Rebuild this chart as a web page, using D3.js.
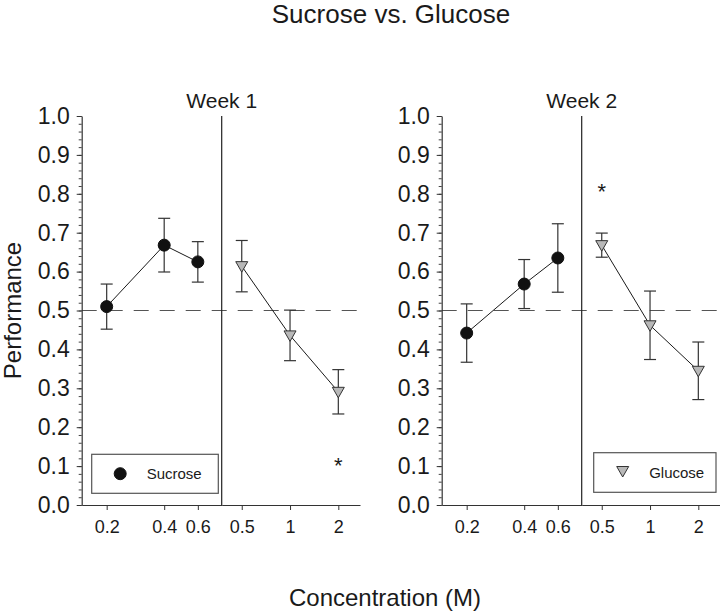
<!DOCTYPE html>
<html>
<head>
<meta charset="utf-8">
<script src="https://cdn.jsdelivr.net/npm/d3@7"></script>
<style>
  body { margin: 0; background: #fff; }
  text { font-family: "Liberation Sans", Arial, sans-serif; fill: #1a1a1a; }
</style>
</head>
<body>
<div id="chart"></div>
<script>
// concentrations (M)
var sucroseConc = [0.2, 0.4, 0.6];
var glucoseConc = [0.5, 1, 2];

// performance means and SEM
var week1Sucrose    = [0.510, 0.668, 0.625];
var week1SucroseErr = [0.058, 0.069, 0.052];
var week1Glucose    = [0.614, 0.436, 0.291];
var week1GlucoseErr = [0.066, 0.065, 0.057];

var week2Sucrose    = [0.442, 0.568, 0.635];
var week2SucroseErr = [0.075, 0.063, 0.088];
var week2Glucose    = [0.668, 0.462, 0.345];
var week2GlucoseErr = [0.031, 0.088, 0.074];

var weekLabels = ["Week 1", "Week 2"];
var yTicks = [0, 0.1, 0.2, 0.3, 0.4, 0.5, 0.6, 0.7, 0.8, 0.9, 1.0];
// significance marks: [panel, series, concentration, y]
var stars = [[0, "glucose", 2, 0.11], [1, "glucose", 0.5, 0.814]];

var width = 720, height = 611;
var svg = d3.select("#chart").append("svg")
  .attr("width", width).attr("height", height);

var panelX  = [81.7, 441.7];
var sucW    = 140;      // sucrose part of each panel
var gluW    = 138.3;    // glucose part
var yTop = 116, yBot = 505;

var y = d3.scaleLinear().domain([0, 1]).range([yBot, yTop]);

var weeks = [
  {suc: week1Sucrose, sucErr: week1SucroseErr, glu: week1Glucose, gluErr: week1GlucoseErr},
  {suc: week2Sucrose, sucErr: week2SucroseErr, glu: week2Glucose, gluErr: week2GlucoseErr}
];

function draw_series(g, xs, conc, vals, errs, kind)
{
  var pts = conc.map(function (c, i) { return {x: xs(c), m: vals[i], e: errs[i]}; });

  // error bars
  var eb = g.append("g");
  pts.forEach(function (p) {
    eb.append("line")
      .attr("x1", p.x).attr("x2", p.x)
      .attr("y1", y(p.m + p.e)).attr("y2", y(p.m - p.e))
      .attr("stroke", "#333").attr("stroke-width", 1.2);
    [p.m + p.e, p.m - p.e].forEach(function (v) {
      eb.append("line")
        .attr("x1", p.x - 6).attr("x2", p.x + 6)
        .attr("y1", y(v)).attr("y2", y(v))
        .attr("stroke", "#333").attr("stroke-width", 1.2);
    });
  });

  g.append("path")
    .datum(pts)
    .attr("fill", "none")
    .attr("stroke", "#1a1a1a")
    .attr("stroke-width", 1)
    .attr("d", d3.line().x(function (d) { return d.x; }).y(function (d) { return y(d.m); }));

  pts.forEach(function (p) {
    draw_marker(g, p.x, y(p.m), kind);
  });
}

function draw_marker(g, cx, cy, kind)
{
  if (kind == "sucrose")
  {
    g.append("circle")
      .attr("cx", cx).attr("cy", cy).attr("r", 6)
      .attr("fill", "#111").attr("stroke", "#111");
  }
  else
  {
    g.append("path")
      .attr("d", "M" + (cx - 6) + "," + (cy - 4.5) + "L" + (cx + 6) + "," + (cy - 4.5) + "L" + cx + "," + (cy + 6) + "Z")
      .attr("fill", "#b8b8b8").attr("stroke", "#333").attr("stroke-width", 1);
  }
}

weeks.forEach(function (w, k) {
  var x0 = panelX[k];
  var xs = d3.scaleLog().domain([0.148, 0.8]).range([x0, x0 + sucW]);
  var xg = d3.scaleLog().domain([0.375, 2.73]).range([x0 + sucW, x0 + sucW + gluW]);
  var g = svg.append("g");

  // dashed chance line
  g.append("line")
    .attr("x1", x0).attr("x2", x0 + sucW + gluW)
    .attr("y1", y(0.5)).attr("y2", y(0.5))
    .attr("stroke", "#555").attr("stroke-width", 1.2)
    .attr("stroke-dasharray", "15,11");

  // divider between sucrose and glucose
  g.append("line")
    .attr("x1", x0 + sucW).attr("x2", x0 + sucW)
    .attr("y1", yTop).attr("y2", yBot)
    .attr("stroke", "#222").attr("stroke-width", 1.2);

  // y axis, minor then major
  g.append("g")
    .attr("transform", "translate(" + x0 + ",0)")
    .call(d3.axisLeft(y).tickValues(d3.range(0, 51).map(function (i) { return i / 50; }))
      .tickSize(3).tickFormat(""))
    .call(function (a) { a.select(".domain").remove(); a.selectAll("line").attr("stroke", "#444"); });

  g.append("g")
    .attr("transform", "translate(" + x0 + ",0)")
    .call(d3.axisLeft(y).tickValues(yTicks).tickSize(5).tickSizeOuter(0).tickPadding(7)
      .tickFormat(d3.format(".1f")))
    .call(function (a) {
      a.select(".domain").attr("stroke", "#333").attr("stroke-width", 1.2);
      a.selectAll("line").attr("stroke", "#333");
      a.selectAll("text").style("font-size", "23px").attr("fill", "#1a1a1a")
        .style("font-family", "Liberation Sans, Arial, sans-serif");
    });

  // x axes (two log scales sharing the baseline)
  [[xs, sucroseConc], [xg, glucoseConc]].forEach(function (pair) {
    g.append("g")
      .attr("transform", "translate(0," + yBot + ")")
      .call(d3.axisBottom(pair[0]).tickValues(pair[1]).tickSize(5).tickSizeOuter(0).tickPadding(10)
        .tickFormat(function (d) { return String(d); }))
      .call(function (a) {
        a.select(".domain").attr("stroke", "#333").attr("stroke-width", 1.2);
        a.selectAll("line").attr("stroke", "#333");
        a.selectAll("text").style("font-size", "18px").attr("fill", "#1a1a1a")
          .style("font-family", "Liberation Sans, Arial, sans-serif");
      });
  });

  draw_series(g, xs, sucroseConc, w.suc, w.sucErr, "sucrose");
  draw_series(g, xg, glucoseConc, w.glu, w.gluErr, "glucose");

  g.append("text")
    .attr("x", x0 + sucW).attr("y", 108)
    .attr("text-anchor", "middle")
    .style("font-size", "21px")
    .text(weekLabels[k]);

  stars.filter(function (s) { return s[0] == k; }).forEach(function (s) {
    var sx = s[1] == "glucose" ? xg(s[2]) : xs(s[2]);
    g.append("text")
      .attr("x", sx).attr("y", y(s[3]) + 11)
      .attr("text-anchor", "middle")
      .style("font-size", "22px")
      .text("*");
  });

  // legend boxes
  var lg = g.append("g");
  if (k == 0)
  {
    lg.append("rect")
      .attr("x", x0 + 10).attr("y", 454.3).attr("width", 126.6).attr("height", 39)
      .attr("fill", "#fff").attr("stroke", "#555").attr("stroke-width", 1.2);
    draw_marker(lg, x0 + 38.5, 473.7, "sucrose");
    lg.append("text").attr("x", x0 + 65).attr("y", 479).style("font-size", "15px").text("Sucrose");
  }
  else
  {
    lg.append("rect")
      .attr("x", x0 + sucW + 12).attr("y", 452.7).attr("width", 122.3).attr("height", 39.6)
      .attr("fill", "#fff").attr("stroke", "#555").attr("stroke-width", 1.2);
    draw_marker(lg, x0 + sucW + 41, 471, "glucose");
    lg.append("text").attr("x", x0 + sucW + 67.5).attr("y", 478).style("font-size", "15px").text("Glucose");
  }
});

svg.append("text")
  .attr("x", 391).attr("y", 23)
  .attr("text-anchor", "middle")
  .style("font-size", "26px")
  .text("Sucrose vs. Glucose");

svg.append("text")
  .attr("x", 385).attr("y", 606)
  .attr("text-anchor", "middle")
  .style("font-size", "24px")
  .text("Concentration (M)");

svg.append("text")
  .attr("transform", "translate(21," + y(0.5) + ") rotate(-90)")
  .attr("text-anchor", "middle")
  .style("font-size", "24px")
  .text("Performance");
</script>
</body>
</html>
